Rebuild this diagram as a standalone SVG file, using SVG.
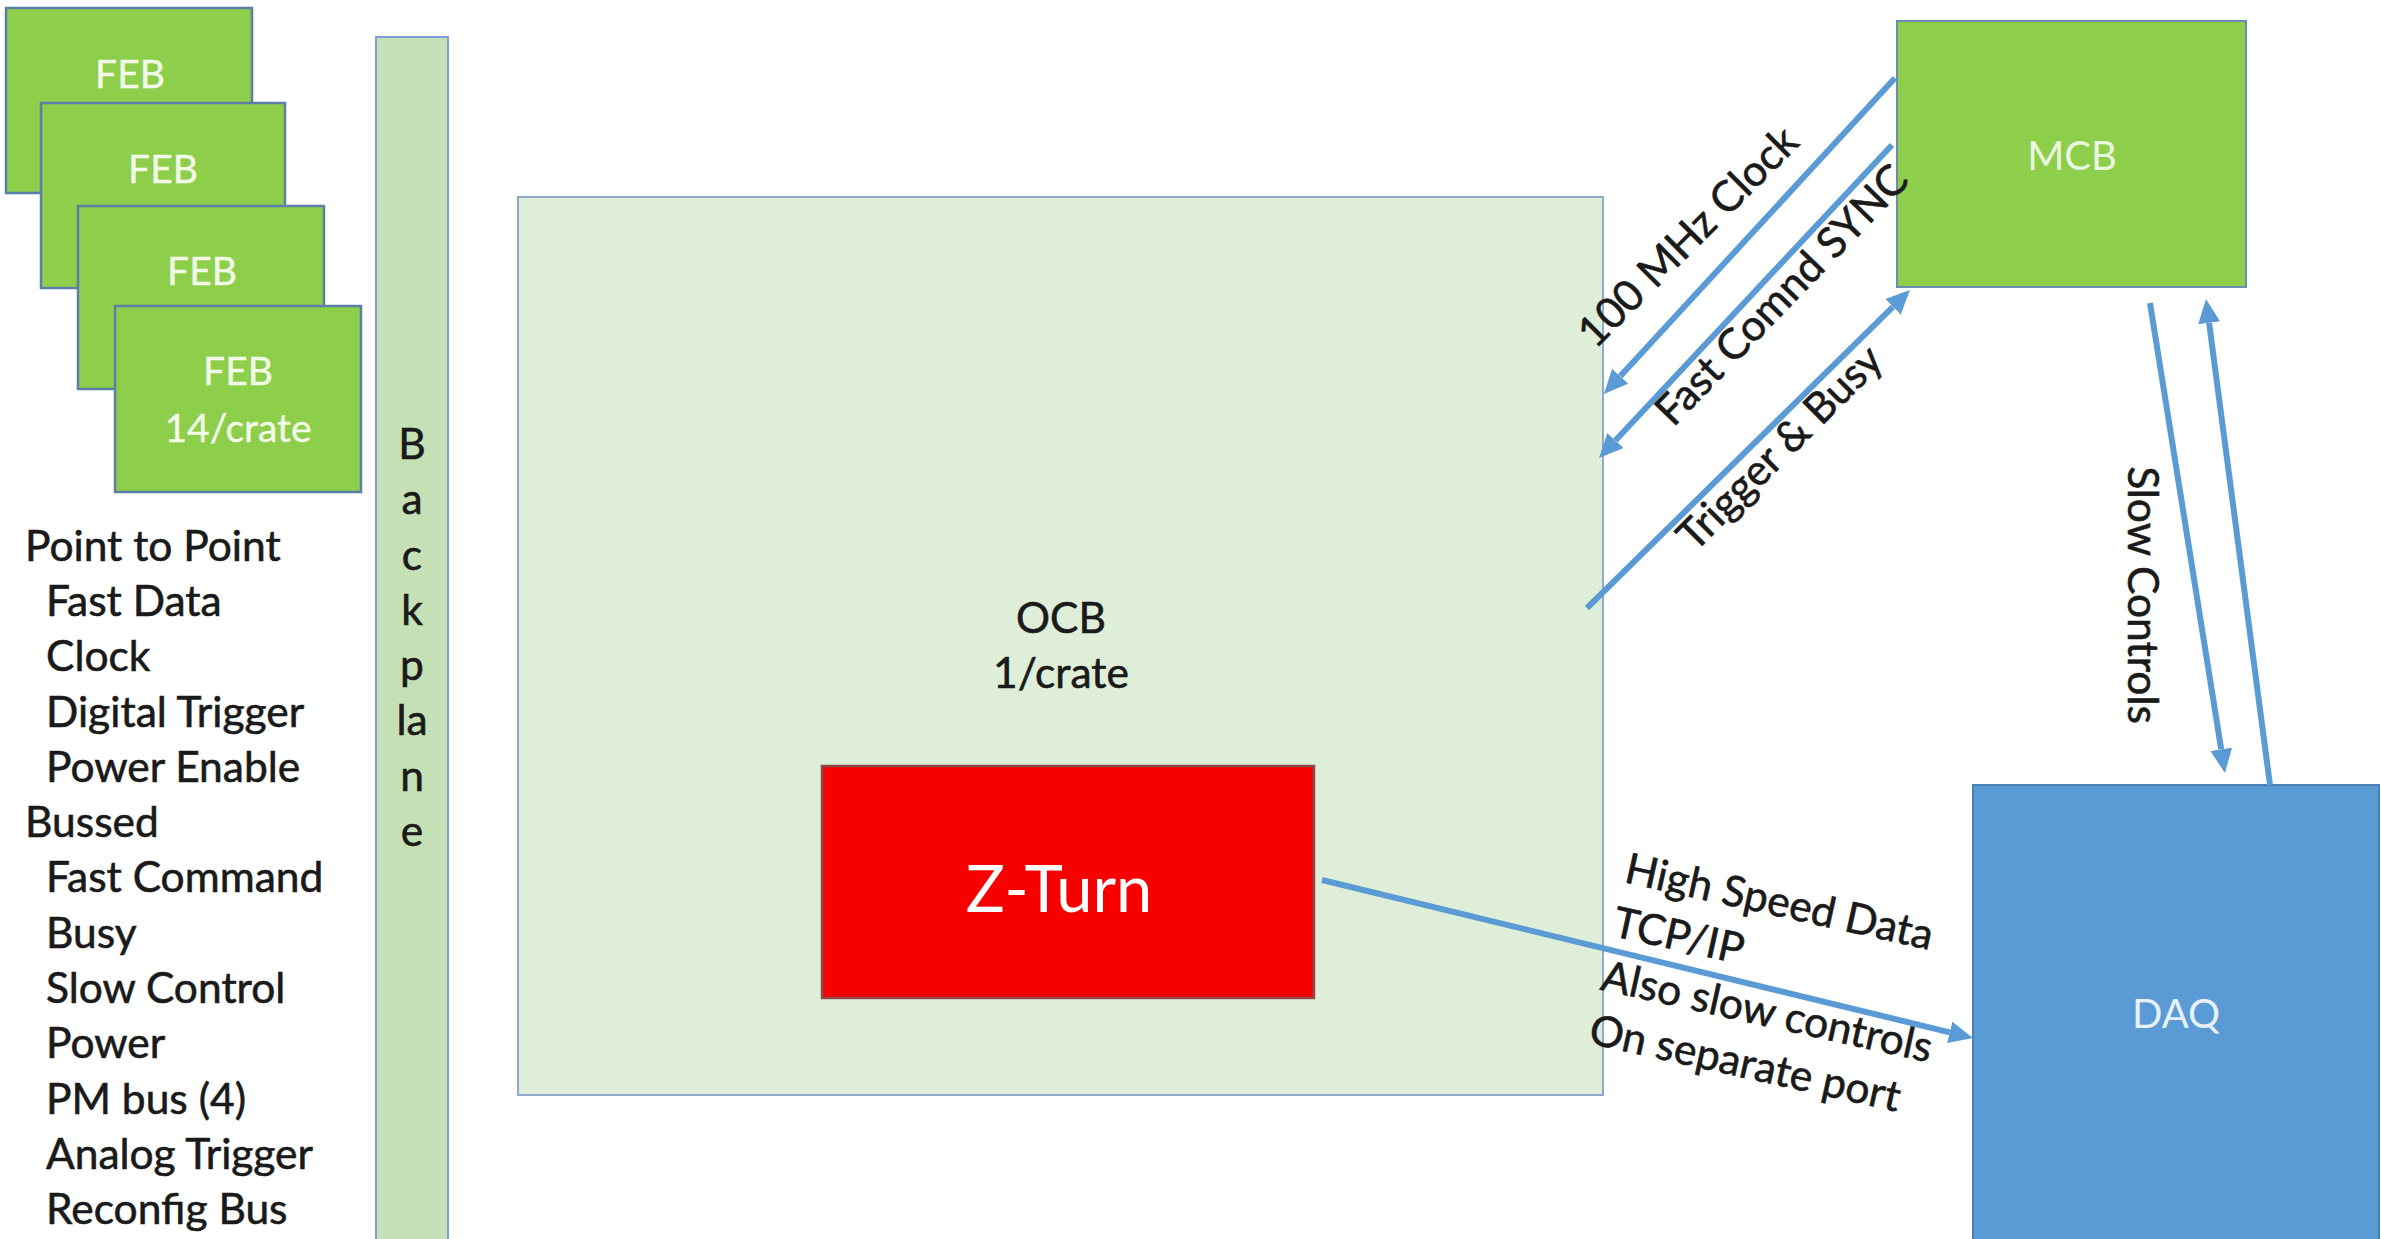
<svg xmlns="http://www.w3.org/2000/svg" width="2382" height="1239" viewBox="0 0 2382 1239">
<defs>
<style>
text{font-family:Lato,"Open Sans","Liberation Sans",sans-serif;}
.feb{fill:#8DCE4B;stroke:#5B7FA6;stroke-width:2.5;}
.febt{fill:#F2FAE8;font-size:39px;text-anchor:middle;stroke:#F2FAE8;stroke-width:0.4;}
.lst{fill:#1A1A1A;font-size:42.5px;stroke:#1A1A1A;stroke-width:0.6;}
.bp{fill:#1A1A1A;font-size:42.5px;text-anchor:middle;stroke:#1A1A1A;stroke-width:0.6;}
.lbl{fill:#1A1A1A;font-size:42.5px;text-anchor:middle;stroke:#1A1A1A;stroke-width:0.6;}
.lbs{fill:#1A1A1A;font-size:42.5px;stroke:#1A1A1A;stroke-width:0.6;}
.conn{stroke:#5B9BD5;stroke-width:6;fill:none;marker-end:url(#ah);}
</style>
<marker id="ah" viewBox="0 0 24 22" refX="0" refY="11" markerWidth="24" markerHeight="22" markerUnits="userSpaceOnUse" orient="auto">
<path d="M0,0 L24,11 L0,22 z" fill="#5B9BD5"/>
</marker>
</defs>
<rect width="2382" height="1239" fill="#FFFFFF"/>

<g id="feb1"><rect class="feb" x="6" y="8" width="246" height="185"/><text class="febt" x="130" y="88">FEB</text></g>
<g id="feb2"><rect class="feb" x="41" y="103" width="244" height="185"/><text class="febt" x="163" y="183">FEB</text></g>
<g id="feb3"><rect class="feb" x="78" y="206" width="246" height="183"/><text class="febt" x="202" y="285">FEB</text></g>
<g id="feb4"><rect class="feb" x="115" y="306" width="246" height="186"/><text class="febt" x="238" y="385">FEB</text><text class="febt" x="238" y="442">14/crate</text></g>

<g id="backplane">
<rect x="376" y="37" width="72" height="1210" fill="#C5E0B4" stroke="#7F9FD6" stroke-width="2"/>
<text class="bp" x="412" y="459">B</text>
<text class="bp" x="412" y="514">a</text>
<text class="bp" x="412" y="570">c</text>
<text class="bp" x="412" y="625">k</text>
<text class="bp" x="412" y="680">p</text>
<text class="bp" x="412" y="735">la</text>
<text class="bp" x="412" y="791">n</text>
<text class="bp" x="412" y="846">e</text>
</g>

<g id="legend">
<text class="lst" x="25" y="561">Point to Point</text>
<text class="lst" x="46" y="616">Fast Data</text>
<text class="lst" x="46" y="671">Clock</text>
<text class="lst" x="46" y="727">Digital Trigger</text>
<text class="lst" x="46" y="782">Power Enable</text>
<text class="lst" x="25" y="837">Bussed</text>
<text class="lst" x="46" y="892">Fast Command</text>
<text class="lst" x="46" y="948">Busy</text>
<text class="lst" x="46" y="1003">Slow Control</text>
<text class="lst" x="46" y="1058">Power</text>
<text class="lst" x="46" y="1114">PM bus (4)</text>
<text class="lst" x="46" y="1169">Analog Trigger</text>
<text class="lst" x="46" y="1224">Reconfig Bus</text>
</g>

<g id="ocb">
<rect x="518" y="197" width="1085" height="898" fill="#DFEED8" stroke="#8FAACC" stroke-width="2"/>
<text class="lbl" x="1061" y="633">OCB</text>
<text class="lbl" x="1061" y="688">1/crate</text>
</g>

<g id="zturn">
<rect x="822" y="766" width="492" height="232" fill="#F80000" stroke="#8A4A4A" stroke-width="2.5"/>
<text x="1059" y="912" fill="#FFFFFF" font-size="65" text-anchor="middle">Z-Turn</text>
</g>

<g id="mcb">
<rect x="1897" y="21" width="349" height="266" fill="#8DCE4B" stroke="#6D8DAF" stroke-width="2"/>
<text x="2072" y="170" fill="#EAF8DF" font-size="40" text-anchor="middle">MCB</text>
</g>

<g id="daq">
<rect x="1973" y="785" width="406" height="460" fill="#5B9BD5" stroke="#4A80B5" stroke-width="2"/>
<text x="2176" y="1028" fill="#E8F1FA" font-size="40" text-anchor="middle">DAQ</text>
</g>

<g id="connectors">
<line class="conn" x1="1895" y1="78" x2="1620.2" y2="376.3"/>
<line class="conn" x1="1892" y1="145" x2="1615.4" y2="440.5"/>
<line class="conn" x1="1587" y1="608" x2="1892.9" y2="306.8"/>
<line class="conn" x1="1322" y1="880" x2="1949.7" y2="1032.3"/>
<line class="conn" x1="2150" y1="303" x2="2221.2" y2="749.3"/>
<line class="conn" x1="2270" y1="785" x2="2209.1" y2="322.8"/>
<text class="lbl" transform="translate(1698,247) rotate(-45)">100 MHz Clock</text>
<text class="lbl" transform="translate(1792,305) rotate(-46)">Fast Comnd SYNC</text>
<text class="lbl" transform="translate(1790,458) rotate(-45)">Trigger &amp; Busy</text>
<text class="lbl" transform="translate(2128,595) rotate(90)">Slow Controls</text>
<g transform="translate(1623,882) rotate(12.5)">
<text class="lbs" x="0" y="0">High Speed Data</text>
<text class="lbs" x="0" y="55">TCP/IP</text>
<text class="lbs" x="0" y="110">Also slow controls</text>
<text class="lbs" x="0" y="165">On separate port</text>
</g>
</g>
</svg>
